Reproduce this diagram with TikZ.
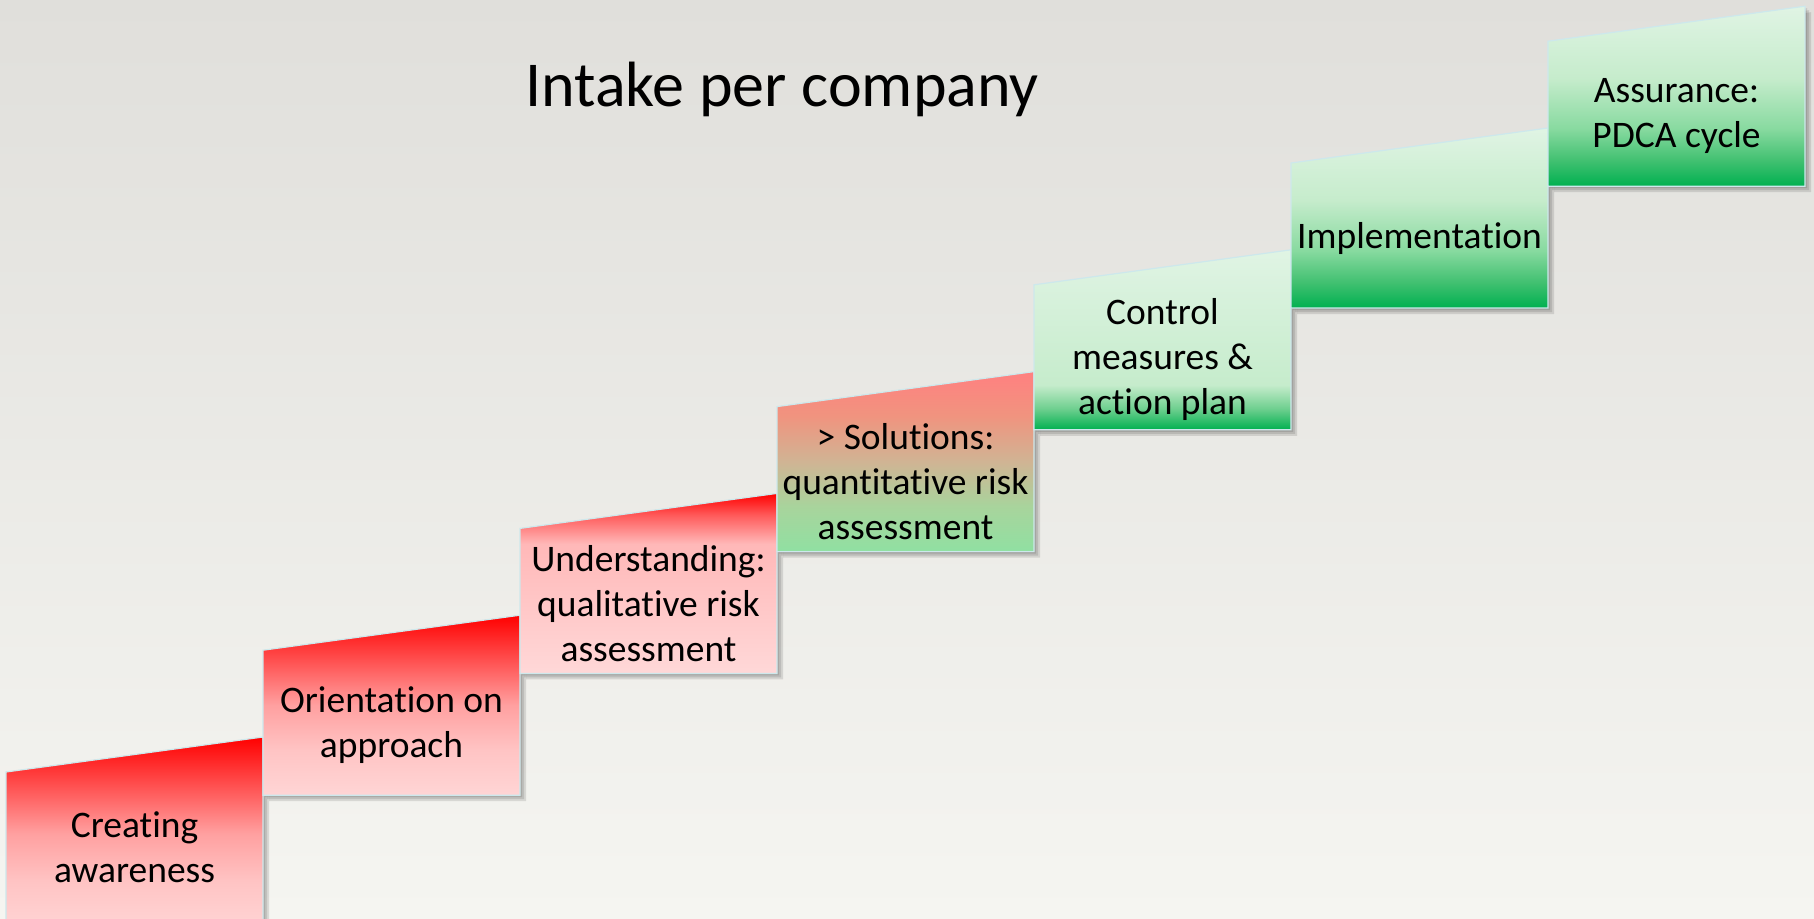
\documentclass[tikz,border=0pt]{standalone}
\usepackage{fontspec}
\setmainfont[Ligatures={NoCommon}]{Carlito}
\definecolor{bgTop}{RGB}{224,223,219}
\definecolor{bgBot}{RGB}{245,245,241}
\definecolor{edgecol}{RGB}{205,232,236}
% red gradient A
\definecolor{rA0}{HTML}{FF0000}
\definecolor{rA1}{HTML}{FF5050}
\definecolor{rA2}{HTML}{FFA0A0}
\definecolor{rA3}{HTML}{FFC4C4}
\definecolor{rA4}{HTML}{FFD5D5}
% red gradient B
\definecolor{rB1}{HTML}{FF5A5A}
\definecolor{rB2}{HTML}{FFB8B8}
\definecolor{rB3}{HTML}{FFD8D8}
% mixed
\definecolor{mC0}{HTML}{FF8080}
\definecolor{mC1}{HTML}{F0947F}
\definecolor{mC2}{HTML}{D0B494}
\definecolor{mC3}{HTML}{A8D49C}
\definecolor{mC4}{HTML}{90E0A2}
% greens
\definecolor{gT}{HTML}{E0F4E4}
\definecolor{gM}{HTML}{C6ECCC}
\definecolor{gN}{HTML}{88DAA0}
\definecolor{gP}{HTML}{70D090}
\definecolor{gQ}{HTML}{40C070}
\definecolor{gB}{HTML}{00B050}
\pgfdeclareverticalshading{redA}{100bp}{color(0bp)=(rA4); color(25bp)=(rA4); color(37.5bp)=(rA3); color(50bp)=(rA2); color(62.5bp)=(rA1); color(75bp)=(rA0); color(100bp)=(rA0)}
\pgfdeclareverticalshading{redB}{100bp}{color(0bp)=(rB3); color(25bp)=(rB3); color(61bp)=(rB2); color(69bp)=(rB1); color(75bp)=(rA0); color(100bp)=(rA0)}
\pgfdeclareverticalshading{mixC}{100bp}{color(0bp)=(mC4); color(25bp)=(mC4); color(37.5bp)=(mC3); color(50bp)=(mC2); color(62.5bp)=(mC1); color(75bp)=(mC0); color(100bp)=(mC0)}
\pgfdeclareverticalshading{greenD}{100bp}{color(0bp)=(gB); color(25bp)=(gB); color(31bp)=(gP); color(37.5bp)=(gM); color(75bp)=(gT); color(100bp)=(gT)}
\pgfdeclareverticalshading{greenE}{100bp}{color(0bp)=(gB); color(25bp)=(gB); color(32bp)=(gQ); color(41bp)=(gN); color(55bp)=(gM); color(75bp)=(gT); color(100bp)=(gT)}
\tikzset{
  steplabel/.style={font=\fontsize{37.5}{45}\selectfont, align=center, inner sep=0pt, text=black},
  stepedge/.style={draw=edgecol, line width=1.2pt},
  shadowlayer/.style={fill=black, fill opacity=0.11, draw=none}
}
% #1 xL, #2 yTL, #3 yB, #4 shading, #5 node name, #6 text
\newcommand{\stairbox}[6]{%
  \foreach \s in {2,4,6}{\path[shadowlayer] (#1+\s,#2+\s) -- (#1+257+\s,#2-35+\s) -- (#1+257+\s,#3+\s) -- (#1+\s,#3+\s) -- cycle;}
  \shade[shading=#4, stepedge] (#1,#2) -- (#1+257,#2-35) -- (#1+257,#3) -- (#1,#3) -- cycle;
  \node[steplabel] (#5) at (#1+128.5,#2+75) {#6};
}
\begin{document}
\begin{tikzpicture}[x=1pt,y=-1pt]
\useasboundingbox (0,0) rectangle (1814,918);
\shade[top color=bgTop, bottom color=bgBot] (0,0) rectangle (1814,918);
\node[font=\fontsize{64}{77}\selectfont, anchor=base, inner sep=0pt] (title) at (782,106) {Intake per company};
\stairbox{6}{772}{930}{redA}{s1}{Creating\\awareness}
\stairbox{263}{650.2}{795.2}{redA}{s2}{Orientation on\\approach}
\stairbox{520}{528.4}{673.4}{redB}{s3}{Understanding:\\qualitative risk\\assessment}
\stairbox{777}{406.6}{551.6}{mixC}{s4}{> Solutions:\\quantitative risk\\assessment}
\stairbox{1034}{284.8}{429.8}{greenD}{s5}{Control\\measures \&\\action plan}
\stairbox{1291}{163}{308}{greenE}{s6}{Implementation}
\stairbox{1548}{41.2}{186.2}{greenE}{s7}{Assurance:\\PDCA cycle}
\end{tikzpicture}
\end{document}
